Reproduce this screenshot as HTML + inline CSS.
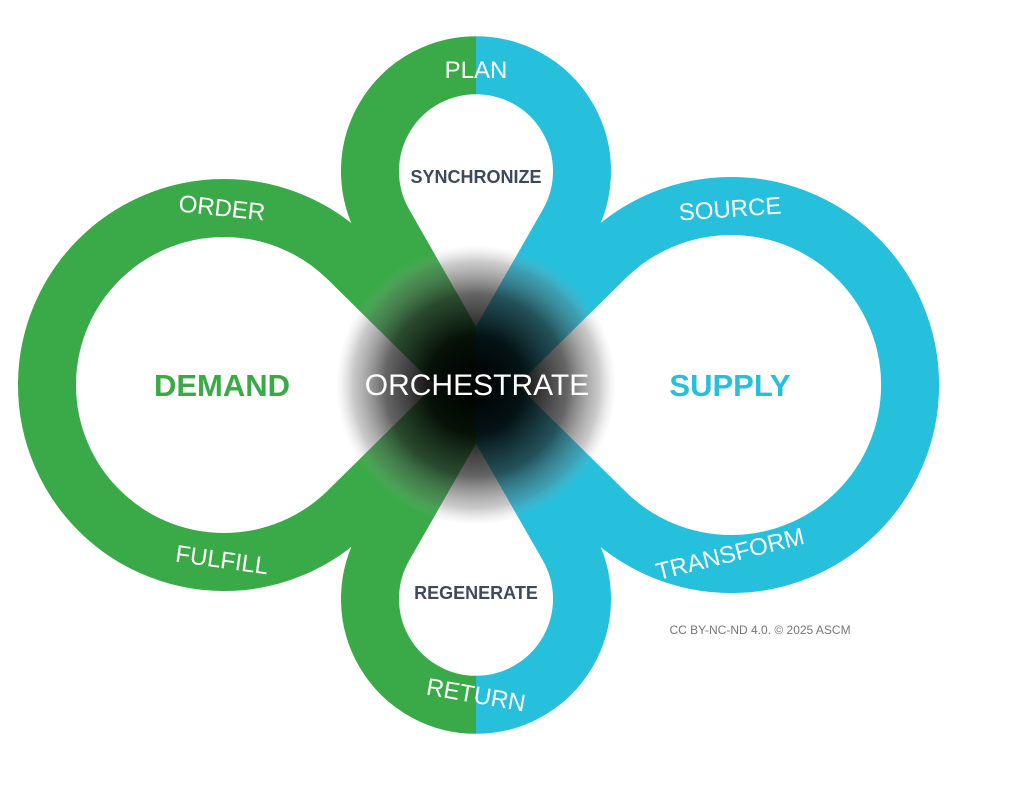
<!DOCTYPE html>
<html><head><meta charset="utf-8"><style>
html,body{margin:0;padding:0;background:#fff;width:1024px;height:795px;overflow:hidden}
svg{display:block}
</style></head><body>
<svg width="1024" height="795" viewBox="0 0 1024 795" xmlns="http://www.w3.org/2000/svg" font-family="Liberation Sans, sans-serif">
<defs>
<clipPath id="L"><rect x="0" y="0" width="476" height="795"/></clipPath>
<clipPath id="R"><rect x="476" y="0" width="548" height="795"/></clipPath>
<radialGradient id="g" cx="476" cy="385" r="140" gradientUnits="userSpaceOnUse">
<stop offset="0" stop-color="#000" stop-opacity="1"/>
<stop offset="0.35" stop-color="#000" stop-opacity="0.9"/>
<stop offset="0.65" stop-color="#222" stop-opacity="0.7"/>
<stop offset="0.88" stop-color="#666" stop-opacity="0.35"/>
<stop offset="1" stop-color="#aaa" stop-opacity="0"/>
</radialGradient>
<g id="shape" fill="none" stroke-width="58">
<path d="M476 385 L348.3 259 A177 177 0 1 0 348.3 511 Z"/>
<path d="M476 385 L607 256 A179 179 0 1 1 607 514 Z"/>
<path d="M476 385 L383.8 223.5 A106 106 0 1 1 568.2 223.5 Z"/>
<path d="M476 385 L383.8 546.5 A106 106 0 1 0 568.2 546.5 Z"/>
</g>
</defs>
<g clip-path="url(#L)"><use href="#shape" stroke="#3aaa49"/></g>
<g clip-path="url(#R)"><use href="#shape" stroke="#26bfdc"/></g>
<circle cx="476" cy="385" r="140" fill="url(#g)"/>
<g fill="#fff" font-size="24" text-anchor="middle">
<text x="222" y="216" transform="rotate(6 222 208)">ORDER</text>
<text x="476" y="78">PLAN</text>
<text x="730" y="217" transform="rotate(-4 730 208)">SOURCE</text>
<text x="222" y="568" transform="rotate(8 222 560)">FULFILL</text>
<text x="730" y="562" transform="rotate(-14 730 554)">TRANSFORM</text>
<text x="476" y="703" transform="rotate(10 476 695)">RETURN</text>
<text x="477" y="395" font-size="30">ORCHESTRATE</text>
</g>
<text x="222" y="396" font-size="31" font-weight="bold" fill="#3aaa49" text-anchor="middle">DEMAND</text>
<text x="730" y="396" font-size="31" font-weight="bold" fill="#26bfdc" text-anchor="middle">SUPPLY</text>
<text x="476" y="183" font-size="18" font-weight="bold" fill="#3d4a5a" text-anchor="middle">SYNCHRONIZE</text>
<text x="476" y="599" font-size="18" font-weight="bold" fill="#3d4a5a" text-anchor="middle">REGENERATE</text>
<text x="760" y="634" font-size="12" fill="#777" text-anchor="middle">CC BY-NC-ND 4.0. © 2025 ASCM</text>
</svg>
</body></html>
